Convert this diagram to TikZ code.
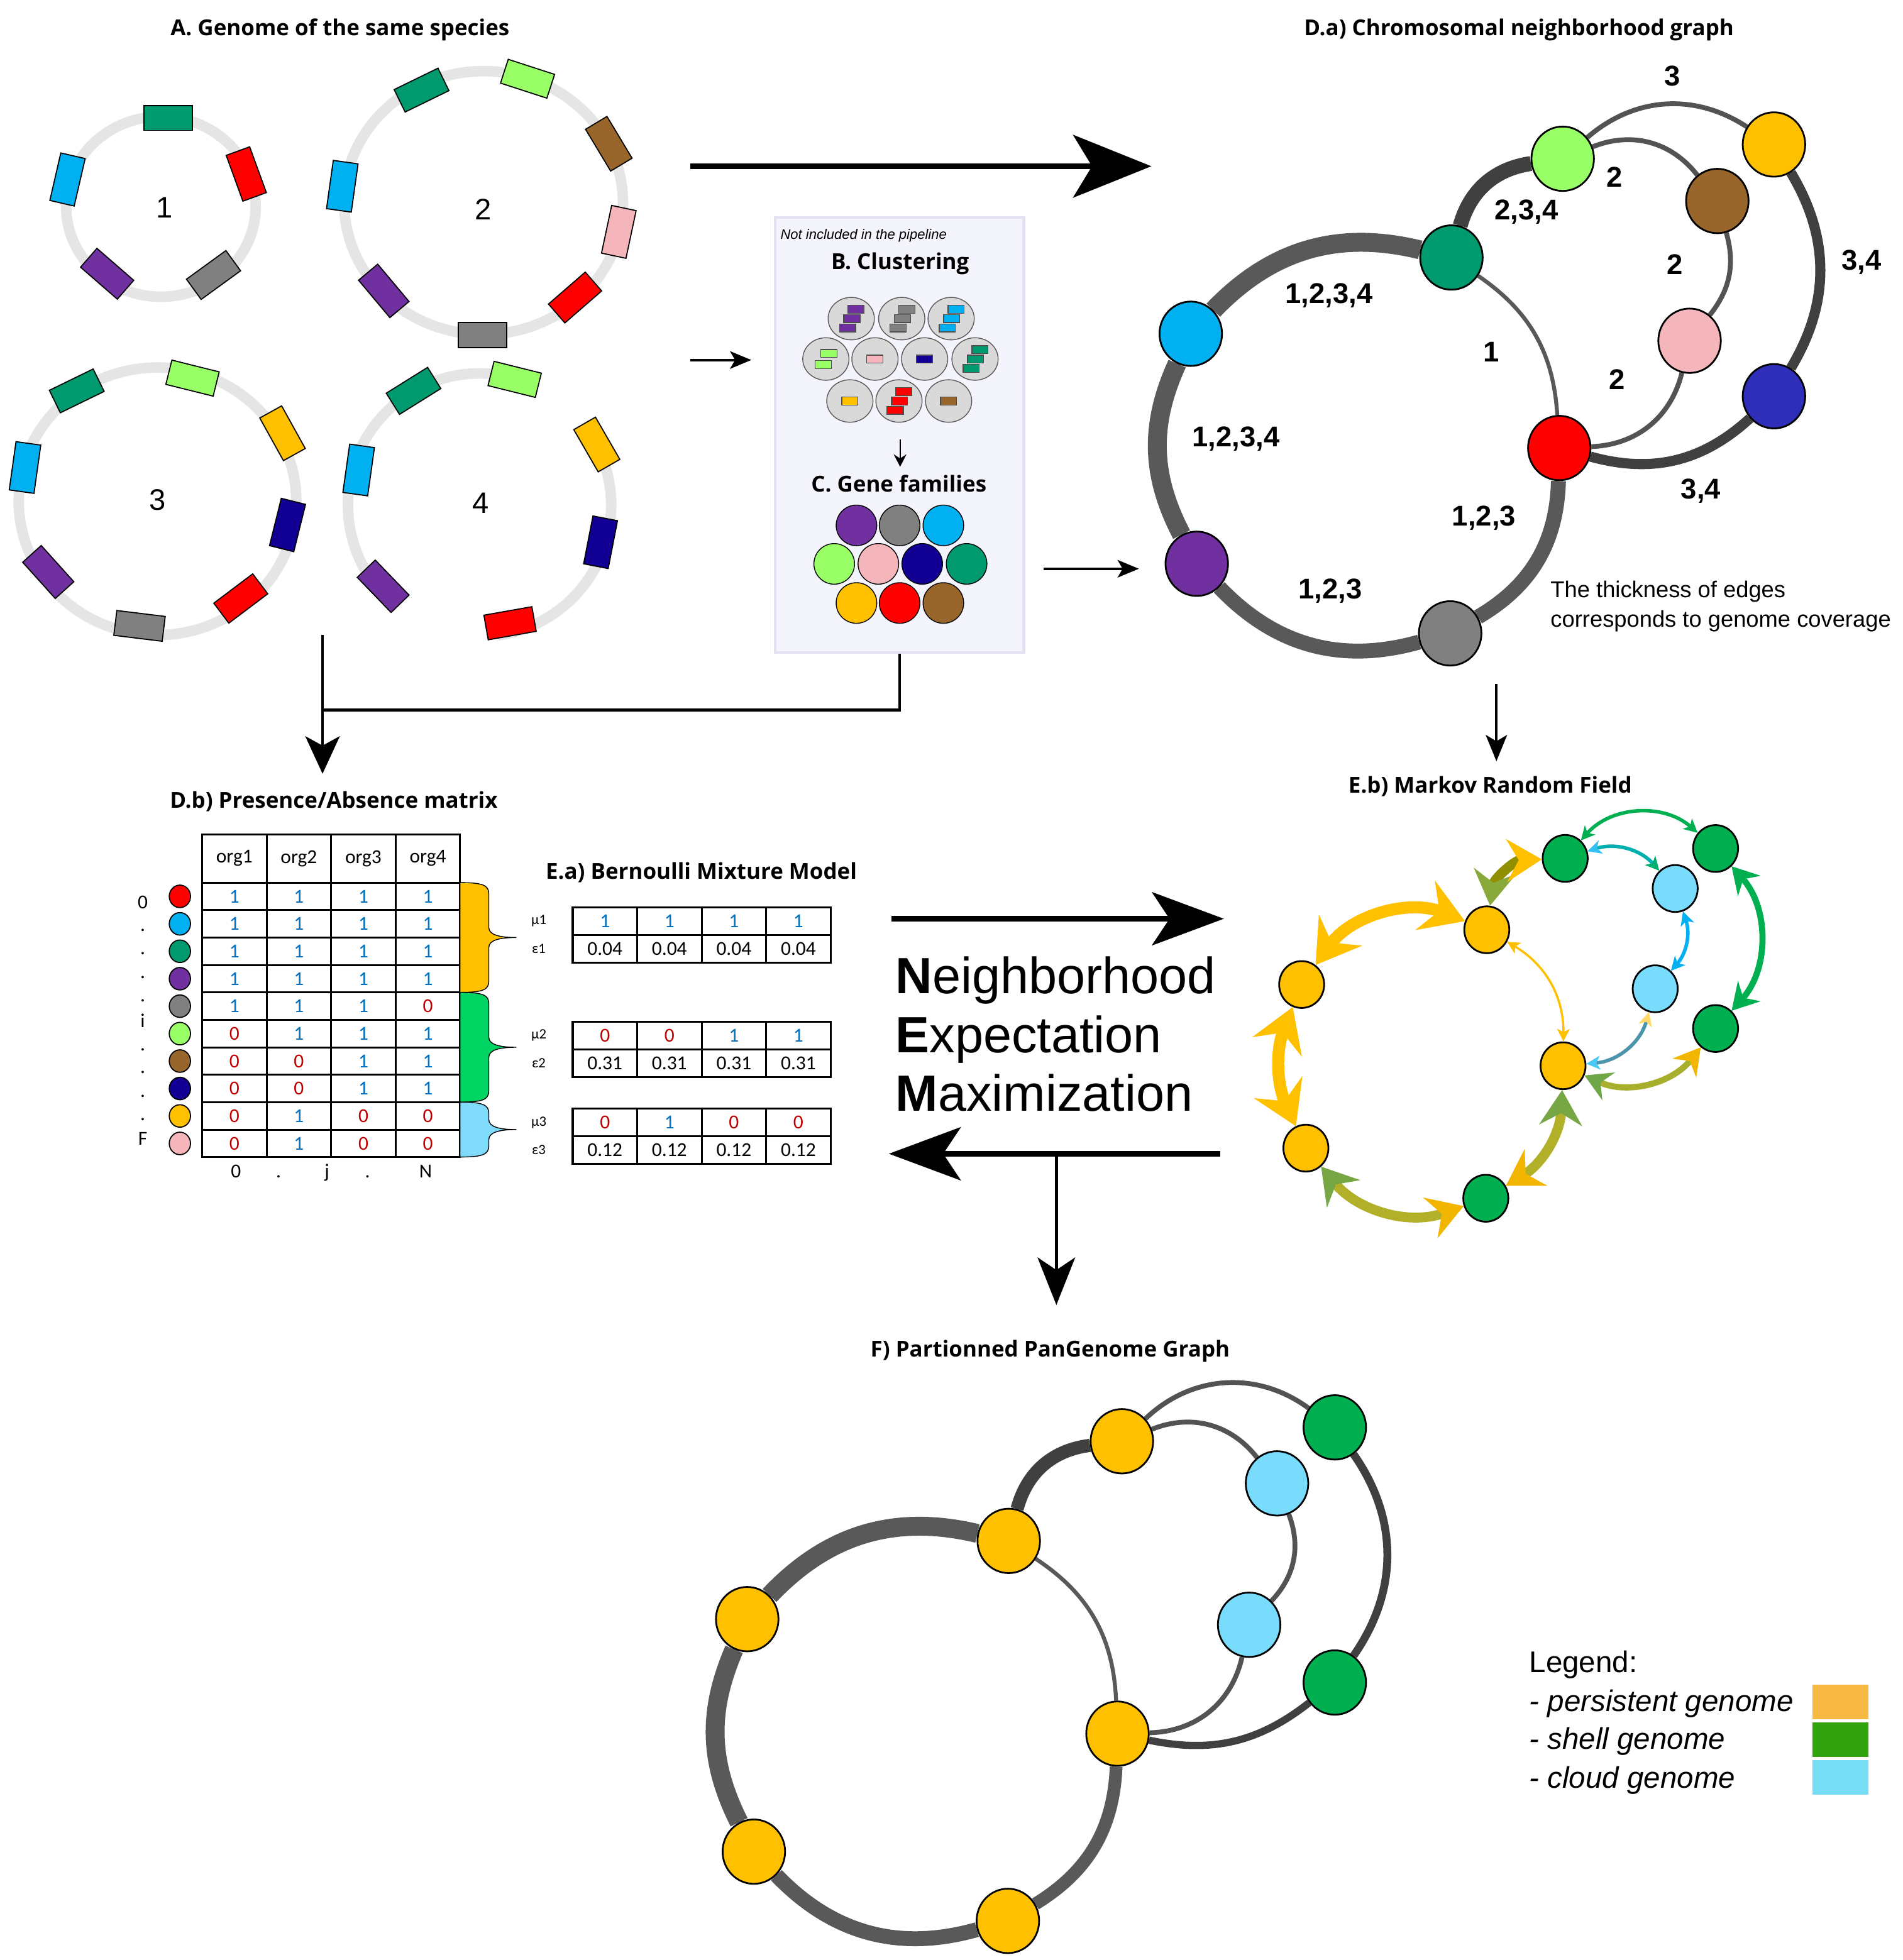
\documentclass[tikz,border=0pt]{standalone}
\usepackage{fontspec}
\setmainfont{Open Sans}
\newfontfamily\arialfont{Liberation Sans}
\newfontfamily\califont{Carlito}
\usetikzlibrary{positioning, arrows.meta, shapes.geometric, backgrounds}

\definecolor{gteal}{HTML}{009A6E}
\definecolor{gred}{HTML}{FF0000}
\definecolor{ggray}{HTML}{808080}
\definecolor{gpurple}{HTML}{7030A0}
\definecolor{gcyan}{HTML}{00B0F0}
\definecolor{glime}{HTML}{99FF66}
\definecolor{gbrown}{HTML}{98652A}
\definecolor{gpink}{HTML}{F4B6BB}
\definecolor{gyellow}{HTML}{FFC000}
\definecolor{gnavy}{HTML}{110093}
\definecolor{dnavy}{HTML}{2E2EB8}
\definecolor{ringgray}{HTML}{E5E5E5}
\definecolor{edgegray}{HTML}{595959}
\definecolor{edgedark}{HTML}{404040}
\definecolor{boxfill}{HTML}{F4F4FD}
\definecolor{boxline}{HTML}{E4E1F2}
\definecolor{clgray}{HTML}{D9D9D9}
\definecolor{vc1}{HTML}{0070C0}
\definecolor{vc0}{HTML}{C00000}
\definecolor{brY}{HTML}{FFC000}
\definecolor{brG}{HTML}{00D462}
\definecolor{brC}{HTML}{80DAF9}
\definecolor{mgreen}{HTML}{00B050}
\definecolor{mcyan}{HTML}{7ADCFC}
\definecolor{lgpers}{HTML}{F7B944}
\definecolor{lgshell}{HTML}{33A30D}
\definecolor{lgcloud}{HTML}{75DEF4}

\begin{document}
\begin{tikzpicture}[
		x=0.02cm, y=-0.02cm,
		title/.style={inner sep=0pt, font=\bfseries\fontsize{10}{12}\selectfont},
		ring/.style={draw=ringgray, line width=4.8pt},
		genebox/.style={draw, line width=0.5pt, minimum width=0.78cm, minimum height=0.4cm, inner sep=0pt},
		gnum/.style={inner sep=0pt, font=\arialfont\fontsize{13.5}{15}\selectfont},
		clell/.style={ellipse, draw=black!65, fill=clgray, line width=0.4pt, minimum width=0.74cm, minimum height=0.68cm, inner sep=0pt},
		clbar/.style={draw=black!70, line width=0.35pt, minimum width=0.26cm, minimum height=0.125cm, inner sep=0pt},
		fam/.style={circle, draw, line width=0.4pt, minimum size=0.65cm, inner sep=0pt},
		gnode/.style={ellipse, draw, line width=0.8pt, minimum width=1cm, minimum height=1.03cm, inner sep=0pt},
		mnode/.style={ellipse, draw, line width=0.8pt, minimum width=0.72cm, minimum height=0.75cm, inner sep=0pt},
		elab/.style={inner sep=0pt, font=\arialfont\bfseries\fontsize{13}{15}\selectfont},
		cov4/.style={draw=edgegray, line width=8.6pt},
		cov3/.style={draw=edgegray, line width=6.8pt},
		cov34/.style={draw=edgedark, line width=4.6pt},
		cov2/.style={draw=edgedark!90!white, line width=2.2pt},
		cov1/.style={draw=edgegray, line width=1.8pt},
		mtxt/.style={inner sep=0pt, font=\califont\fontsize{9}{10}\selectfont},
		plab/.style={inner sep=0pt, font=\califont\fontsize{6.5}{8}\selectfont},
		tabline/.style={line width=0.9pt},
		mdot/.style={ellipse, draw, line width=0.5pt, minimum width=0.34cm, minimum height=0.36cm, inner sep=0pt},
		bigarr/.style={line width=2.8pt, -{Stealth[length=1.25cm, width=1cm, inset=0.3cm]}},
		nemarr/.style={line width=2.4pt, -{Stealth[length=1.15cm, width=0.85cm, inset=0.28cm]}},
		smallarr/.style={line width=1.1pt, -{Stealth[length=0.34cm, width=0.28cm, inset=0.08cm]}},
		downarr/.style={line width=1.4pt, -{Stealth[length=0.6cm, width=0.55cm, inset=0.15cm]}},
		mhuge/.style n args={3}{draw=#1, line width=5.5pt, arrows={Stealth[length=0.68cm, width=0.84cm, inset=0.24cm, color=#2]-Stealth[length=0.68cm, width=0.84cm, inset=0.24cm, color=#3]}},
		mbig/.style n args={3}{draw=#1, line width=4.5pt, arrows={Stealth[length=0.56cm, width=0.68cm, inset=0.19cm, color=#2]-Stealth[length=0.56cm, width=0.68cm, inset=0.19cm, color=#3]}},
		mmid/.style n args={3}{draw=#1, line width=2.8pt, arrows={Stealth[length=0.42cm, width=0.48cm, inset=0.14cm, color=#2]-Stealth[length=0.42cm, width=0.48cm, inset=0.14cm, color=#3]}},
		mthin/.style n args={3}{draw=#1, line width=1.6pt, arrows={Stealth[length=0.22cm, width=0.22cm, inset=0.06cm, color=#2]-Stealth[length=0.22cm, width=0.22cm, inset=0.06cm, color=#3]}},
		mhair/.style n args={3}{draw=#1, line width=1pt, arrows={Stealth[length=0.2cm, width=0.2cm, inset=0.05cm, color=#2]-Stealth[length=0.2cm, width=0.2cm, inset=0.05cm, color=#3]}},
	]
	\begin{pgfonlayer}{background}
		\fill[white] (0,0) rectangle (1522,1568);
	\end{pgfonlayer}
	\useasboundingbox (0,0) rectangle (1522,1568);

	% A. genomes
	\node[title] (ta) at (272,24) {A. Genome of the same species};
	\draw[ring] (128.7,165.3) ellipse [x radius=75.8, y radius=72.1];
	\draw[ring] (386.8,162.2) ellipse [x radius=111.5, y radius=105.3];
	\draw[ring] (126,401) ellipse [x radius=111, y radius=107];
	\draw[ring] (383.6,404) ++(-24:105.3) arc [start angle=-24, end angle=82, radius=105.3];
	\draw[ring] (383.6,404) ++(135:105.3) arc [start angle=135, end angle=290, radius=105.3];
	\foreach \nm/\x/\y/\rot/\col in {
			g1a/134.5/94.3/0/gteal, g1b/197/139.2/-70/gred, g1c/170.8/220/36/ggray, g1d/85.7/219/-41/gpurple, g1e/54/143.6/77/gcyan,
			g2a/337.2/72.1/26/gteal, g2b/422/63/-18/glime, g2c/487/115/-59/gbrown, g2d/495/185.5/78/gpink,
			g2e/460/238/41/gred, g2f/386/268/0/ggray, g2g/307/232.7/-50/gpurple, g2h/273.8/149/82/gcyan,
			g3a/61.4/312.7/26/gteal, g3b/154/302.5/-14/glime, g3c/226/346.6/-61/gyellow, g3d/230/420/76/gnavy,
			g3e/192.6/478.8/37/gred, g3f/111.6/500.7/-7/ggray, g3g/38.6/457.6/-48/gpurple, g3h/20/374/82/gcyan,
			g4a/330.8/312.7/32/gteal, g4b/411.7/303.5/-14/glime, g4c/477.4/355.6/-60/gyellow, g4d/480.4/433.8/79/gnavy,
			g4e/408/498.6/10/gred, g4f/306.5/469/-46/gpurple, g4g/286.9/376/82/gcyan}
		\node[genebox, fill=\col, rotate=\rot] (\nm) at (\x,\y) {};
	\node[gnum] (n1) at (131.8,166) {1};
	\node[gnum] (n2) at (386.5,167.7) {2};
	\node[gnum] (n3) at (126,400) {3};
	\node[gnum] (n4) at (384.5,402.6) {4};

	% B./C. clustering box
	\node[draw=boxline, fill=boxfill, line width=1.2pt, minimum width=3.98cm, minimum height=6.96cm] (clbox) at (719.5,348) {};
	\node[anchor=base west, inner sep=0pt, font=\arialfont\itshape\fontsize{6.3}{7}\selectfont] (ninc) at (624,191.5) {Not included in the pipeline};
	\node[title] (tb) at (720,211) {B. Clustering};
	\foreach \nm/\x/\y/\col in {clpu/680.9/254.9/gpurple, clgr/721.3/254.9/ggray, clcy/760.8/254.9/gcyan, clte/779.9/287.2/gteal, clre/719.1/320.8/gred} {
		\node[clell] (\nm) at (\x,\y) {};
		\foreach \dx/\dy [count=\kk] in {4/-7.5, 0.5/0, -3/7.5}
			\node[clbar, fill=\col] (\nm-\kk) at ({\x+\dx},{\y+\dy}) {};
	}
	\node[clell] (clli) at (660.6,287.2) {};
	\node[clbar, fill=glime] (clli-1) at (663.1,282.7) {};
	\node[clbar, fill=glime] (clli-2) at (658.6,291.7) {};
	\foreach \nm/\x/\y/\col in {clpk/699.9/287.2/gpink, clnv/739.6/287.2/gnavy, clye/679.8/320.8/gyellow, clbr/758.8/320.8/gbrown} {
		\node[clell] (\nm) at (\x,\y) {};
		\node[clbar, fill=\col] (\nm-1) at (\x,\y) {};
	}
	\coordinate (clar1) at (720,351.6);
	\coordinate (clar2) at (720,373.5);
	\draw[line width=0.7pt, -{Stealth[length=0.2cm, width=0.2cm]}] (clar1) -- (clar2);
	\node[title] (tc) at (719,387) {C. Gene families};
	\foreach \nm/\x/\y/\col in {fpu/685.1/420.3/gpurple, fgr/719.6/420.3/ggray, fcy/754.6/420.3/gcyan,
			fli/667.3/451.1/glime, fpk/702.6/451.1/gpink, fnv/737.7/451.1/gnavy, fte/773.2/451.1/gteal,
			fye/685.1/482.4/gyellow, fre/719.6/482.4/gred, fbr/754.6/482.4/gbrown}
		\node[fam, fill=\col] (\nm) at (\x,\y) {};

	% arrows between the parts
	\coordinate (ar1s) at (552,133);
	\coordinate (ar1e) at (921,133);
	\draw[bigarr] (ar1s) -- (ar1e);
	\coordinate (ar2s) at (552,288);
	\coordinate (ar2e) at (601,288);
	\draw[smallarr] (ar2s) -- (ar2e);
	\coordinate (ar3s) at (835,455);
	\coordinate (ar3e) at (911,455);
	\draw[smallarr] (ar3s) -- (ar3e);
	\coordinate (ar4s) at (258,508);
	\coordinate (ar4e) at (258,619);
	\coordinate (ar4j) at (258,568);
	\draw[downarr] (ar4s) -- (ar4e);
	\draw[line width=1.2pt] (clbox.south) |- (ar4j);
	\coordinate (ar5s) at (1197,547);
	\coordinate (ar5e) at (1197,609);
	\draw[line width=1.2pt, -{Stealth[length=0.42cm, width=0.34cm, inset=0.1cm]}] (ar5s) -- (ar5e);

	% D.a) neighborhood graph
	\node[title] (tda) at (1215,24) {D.a) Chromosomal neighborhood graph};
	\node[gnode, fill=gcyan] (dcy) at (952.5,267) {};
	\node[gnode, fill=gteal] (dte) at (1161,206) {};
	\node[gnode, fill=glime] (dli) at (1250,127) {};
	\node[gnode, fill=gyellow] (dye) at (1419,115.6) {};
	\node[gnode, fill=gbrown] (dbr) at (1373.7,160.8) {};
	\node[gnode, fill=gpink] (dpk) at (1351.5,272.6) {};
	\node[gnode, fill=dnavy] (dnv) at (1419,317) {};
	\node[gnode, fill=gred] (dre) at (1247.3,358.4) {};
	\node[gnode, fill=gpurple] (dpu) at (957.3,451) {};
	\node[gnode, fill=ggray] (dgr) at (1160,506.7) {};
	\begin{pgfonlayer}{background}
		\draw[cov4] (dcy) to[bend left=30] (dte);
		\draw[cov4] (dpu) to[bend left=26] (dcy);
		\draw[cov1] (dte) to[bend left=26] (dre);
		\draw[cov3] (dre) to[bend left=29] (dgr);
		\draw[cov3] (dgr) to[bend left=31] (dpu);
		\draw[cov3, draw=edgedark] (dte) to[bend left=33] (dli);
		\draw[cov2] (dli) to[bend left=37] (dbr);
		\draw[cov2] (dli) to[bend left=37] (dye);
		\draw[cov2] (dbr) to[bend left=27] (dpk);
		\draw[cov2] (dpk) to[bend left=37] (dre);
		\draw[cov34] (dye) to[bend left=31] (dnv);
		\draw[cov34] (dnv) to[bend left=29] (dre);
	\end{pgfonlayer}
	\node[elab] (la1) at (1063,236.5) {1,2,3,4};
	\node[elab] (la2) at (988.6,351) {1,2,3,4};
	\node[elab] (la3) at (1193,281.7) {1};
	\node[elab] (la4) at (1187,414.5) {1,2,3};
	\node[elab] (la5) at (1064,472.6) {1,2,3};
	\node[elab] (la6) at (1221,169.5) {2,3,4};
	\node[elab] (la7) at (1291.5,141.4) {2};
	\node[elab] (la8) at (1339.6,211.3) {2};
	\node[elab] (la9) at (1293.5,303.6) {2};
	\node[elab] (la10) at (1337.5,61) {3};
	\node[elab] (la11) at (1489,210) {3,4};
	\node[elab] (la12) at (1360.5,392.8) {3,4};
	\node[anchor=base west, inner sep=0pt, font=\arialfont\fontsize{10.4}{12}\selectfont] (thk1) at (1240,478) {The thickness of edges};
	\node[anchor=base west, inner sep=0pt, font=\arialfont\fontsize{10.4}{12}\selectfont] (thk2) at (1240,501.5) {corresponds to genome coverage};

	% D.b) matrix
	\node[title] (tdb) at (267,641) {D.b) Presence/Absence matrix};
	\draw[tabline] (161.7,667.4) rectangle (368,925.7);
	\foreach \kk in {1,2,3}
		\draw[tabline] ({161.7+\kk*51.58},667.4) -- ({161.7+\kk*51.58},925.7);
	\foreach \kk in {0,...,9}
		\draw[tabline] (161.7,{706.1+\kk*21.96}) -- (368,{706.1+\kk*21.96});
	\foreach \hd [count=\jj] in {org1,org2,org3,org4}
		\node[mtxt] (h\jj) at ({161.7+(\jj-0.5)*51.58},686.7) {\hd};
	\foreach \row [count=\ii] in {{1,1,1,1},{1,1,1,1},{1,1,1,1},{1,1,1,1},{1,1,1,0},{0,1,1,1},{0,0,1,1},{0,0,1,1},{0,1,0,0},{0,1,0,0}}
		\foreach \val [count=\jj] in \row
			\node[mtxt, text=vc\val] (m\ii-\jj) at ({161.7+(\jj-0.5)*51.58},{706.1+(\ii-0.5)*21.96}) {\val};
	\foreach \col [count=\ii] in {gred,gcyan,gteal,gpurple,ggray,glime,gbrown,gnavy,gyellow,gpink}
		\node[mdot, fill=\col] (md\ii) at (143.9,{706.1+(\ii-0.5)*21.96}) {};
	\foreach \lb/\y [count=\ii] in {0/721.6, ./744, ./762.7, ./781.7, ./800.4, i/816.4, ./839.5, ./857.8, ./877, ./895.3, F/910.8}
		\node[mtxt] (ix\ii) at (114.2,\y) {\lb};
	\foreach \lb/\x [count=\ii] in {0/188.8, ./222.8, j/261.6, ./294, N/340.5}
		\node[mtxt, anchor=base] (jx\ii) at (\x,942) {\lb};
	\foreach \ta/\tb/\col in {706.1/793.9/brY, 793.9/881.7/brG, 881.7/925.6/brC} {
		\pgfmathsetmacro\mm{(\ta+\tb)/2}
		\draw[line width=0.4pt, fill=\col] (368,\ta) .. controls (386,\ta) and (391,{\ta+2}) .. (391,{\ta+9})
			-- (391,{\mm-8}) .. controls (391,{\mm-2}) and (400,\mm) .. (413,\mm)
			.. controls (400,\mm) and (391,{\mm+2}) .. (391,{\mm+8})
			-- (391,{\tb-9}) .. controls (391,{\tb-2}) and (386,\tb) .. (368,\tb) -- cycle;
	}

	% E.a) mixture model
	\node[title] (tea) at (561,698) {E.a) Bernoulli Mixture Model};
	\foreach \ty/\mus/\eps/\nn in {725.8/{1,1,1,1}/0.04/1, 817.4/{0,0,1,1}/0.31/2, 887/{0,1,0,0}/0.12/3} {
		\draw[tabline] (458.1,\ty) rectangle (664.4,{\ty+44.2});
		\draw[tabline] (458.1,{\ty+22.1}) -- (664.4,{\ty+22.1});
		\foreach \kk in {1,2,3}
			\draw[tabline] ({458.1+\kk*51.58},\ty) -- ({458.1+\kk*51.58},{\ty+44.2});
		\node[plab] (mu\nn) at (431,{\ty+11}) {μ\nn};
		\node[plab] (ep\nn) at (431,{\ty+33}) {ε\nn};
		\foreach \val [count=\jj] in \mus
			\node[mtxt, text=vc\val] (mu\nn-\jj) at ({458.1+(\jj-0.5)*51.58},{\ty+11}) {\val};
		\foreach \jj in {1,...,4}
			\node[mtxt] (ep\nn-\jj) at ({458.1+(\jj-0.5)*51.58},{\ty+33.1}) {\eps};
	}

	% NEM
	\node[anchor=base west, inner sep=0pt, font=\arialfont\fontsize{23.2}{27}\selectfont] (nem1) at (716,795) {\textbf{N}eighborhood};
	\node[anchor=base west, inner sep=0pt, font=\arialfont\fontsize{23.2}{27}\selectfont] (nem2) at (716,842) {\textbf{E}xpectation};
	\node[anchor=base west, inner sep=0pt, font=\arialfont\fontsize{23.2}{27}\selectfont] (nem3) at (716,889) {\textbf{M}aximization};
	\coordinate (nr1) at (713,735);
	\coordinate (nr2) at (979,735);
	\coordinate (nl1) at (976,923);
	\coordinate (nl2) at (711,923);
	\coordinate (nd1) at (845,923);
	\coordinate (nd2) at (845,1044);
	\draw[nemarr] (nr1) -- (nr2);
	\draw[nemarr] (nl1) -- (nl2);
	\draw[line width=1.6pt, -{Stealth[length=0.76cm, width=0.6cm, inset=0.2cm]}] (nd1) -- (nd2);

	% E.b) Markov random field
	\node[title] (teb) at (1192,629) {E.b) Markov Random Field};
	\node[mnode, fill=gyellow] (my1) at (1189.3,743.8) {};
	\node[mnode, fill=gyellow] (my2) at (1041.2,787.6) {};
	\node[mnode, fill=gyellow] (my3) at (1250.3,852.6) {};
	\node[mnode, fill=gyellow] (my4) at (1044.6,918.5) {};
	\node[mnode, fill=mgreen] (mg1) at (1252,686.7) {};
	\node[mnode, fill=mgreen] (mg2) at (1372.3,678.8) {};
	\node[mnode, fill=mgreen] (mg3) at (1372.3,822.8) {};
	\node[mnode, fill=mgreen] (mg4) at (1188.5,958.6) {};
	\node[mnode, fill=mcyan] (mc1) at (1340,710.8) {};
	\node[mnode, fill=mcyan] (mc2) at (1324,791) {};
	\draw[mhuge={gyellow}{gyellow}{gyellow}] (my2) to[bend left=38] (my1);
	\draw[mhuge={gyellow}{gyellow}{gyellow}] (my4) to[bend left=23] (my2);
	\draw[mbig={gyellow!80!green!70!black}{gyellow!55!mgreen!75!gray}{gyellow}] (my1) to[bend left=40] (mg1);
	\draw[mbig={gyellow!75!mgreen!80!gray}{gyellow!95!black}{gyellow!45!mgreen!70!gray}] (mg4) to[bend left=35] (my4);
	\draw[mbig={gyellow!75!mgreen!80!gray}{gyellow!45!mgreen!70!gray}{gyellow!95!black}] (my3) to[bend left=28] (mg4);
	\draw[mmid={gyellow!70!mgreen!80!gray}{gyellow!95!black}{gyellow!40!mgreen!70!gray}] (mg3) to[bend left=38] (my3);
	\draw[mmid={mgreen}{mgreen}{mgreen}] (mg2) to[bend left=42] (mg3);
	\draw[mthin={mgreen}{mgreen}{mgreen}] (mg1) to[bend left=45] (mg2);
	\draw[mthin={gcyan!60!mgreen}{gcyan!80!white}{mgreen!80!gcyan}] (mg1) to[bend left=33] (mc1);
	\draw[mthin={gcyan}{gcyan}{gcyan}] (mc1) to[bend left=30] (mc2);
	\draw[mthin={gray!60!gcyan}{gyellow!60!white}{gcyan!70!white}] (mc2) to[bend left=35] (my3);
	\draw[mhair={gyellow}{gyellow}{gyellow}] (my1) to[bend left=30] (my3);

	% F) partitioned graph
	\node[title] (tf) at (840,1081) {F) Partionned PanGenome Graph};
	\node[gnode, fill=gyellow] (fp1) at (597.7,1295.3) {};
	\node[gnode, fill=gyellow] (fp2) at (806.9,1232.7) {};
	\node[gnode, fill=gyellow] (fp3) at (897.4,1153) {};
	\node[gnode, fill=gyellow] (fp4) at (893.9,1386.9) {};
	\node[gnode, fill=gyellow] (fp5) at (603,1481.3) {};
	\node[gnode, fill=gyellow] (fp6) at (806.2,1536.7) {};
	\node[gnode, fill=mgreen] (fs1) at (1067.7,1141.9) {};
	\node[gnode, fill=mgreen] (fs2) at (1067.7,1346) {};
	\node[gnode, fill=mcyan] (fc1) at (1021.5,1186.7) {};
	\node[gnode, fill=mcyan] (fc2) at (999.2,1299.8) {};
	\begin{pgfonlayer}{background}
		\draw[cov4] (fp1) to[bend left=30] (fp2);
		\draw[cov4] (fp5) to[bend left=25] (fp1);
		\draw[cov1] (fp2) to[bend left=27] (fp4);
		\draw[draw=edgegray, line width=5.8pt] (fp4) to[bend left=28] (fp6);
		\draw[cov3] (fp6) to[bend left=31] (fp5);
		\draw[draw=edgedark, line width=6pt] (fp2) to[bend left=34] (fp3);
		\draw[cov2] (fp3) to[bend left=37] (fc1);
		\draw[cov2] (fp3) to[bend left=40] (fs1);
		\draw[cov2] (fc1) to[bend left=32] (fc2);
		\draw[cov2] (fc2) to[bend left=38] (fp4);
		\draw[draw=edgedark, line width=3.6pt] (fs1) to[bend left=35] (fs2);
		\draw[draw=edgedark, line width=3.3pt] (fs2) to[bend left=25] (fp4);
	\end{pgfonlayer}

	% legend
	\node[anchor=base west, inner sep=0pt, font=\arialfont\fontsize{13.6}{16}\selectfont] (lgt) at (1223,1338) {Legend:};
	\node[anchor=base west, inner sep=0pt, font=\arialfont\itshape\fontsize{13.6}{16}\selectfont] (lgt1) at (1223,1369) {- persistent genome};
	\node[anchor=base west, inner sep=0pt, font=\arialfont\itshape\fontsize{13.6}{16}\selectfont] (lgt2) at (1223,1399.2) {- shell genome};
	\node[anchor=base west, inner sep=0pt, font=\arialfont\itshape\fontsize{13.6}{16}\selectfont] (lgt3) at (1223,1430.2) {- cloud genome};
	\node[fill=lgpers, minimum width=0.894cm, minimum height=0.554cm, inner sep=0pt] (lg1) at (1472,1361.5) {};
	\node[fill=lgshell, minimum width=0.894cm, minimum height=0.554cm, inner sep=0pt] (lg2) at (1472,1391.5) {};
	\node[fill=lgcloud, minimum width=0.894cm, minimum height=0.554cm, inner sep=0pt] (lg3) at (1472,1421.8) {};
\end{tikzpicture}
\end{document}
